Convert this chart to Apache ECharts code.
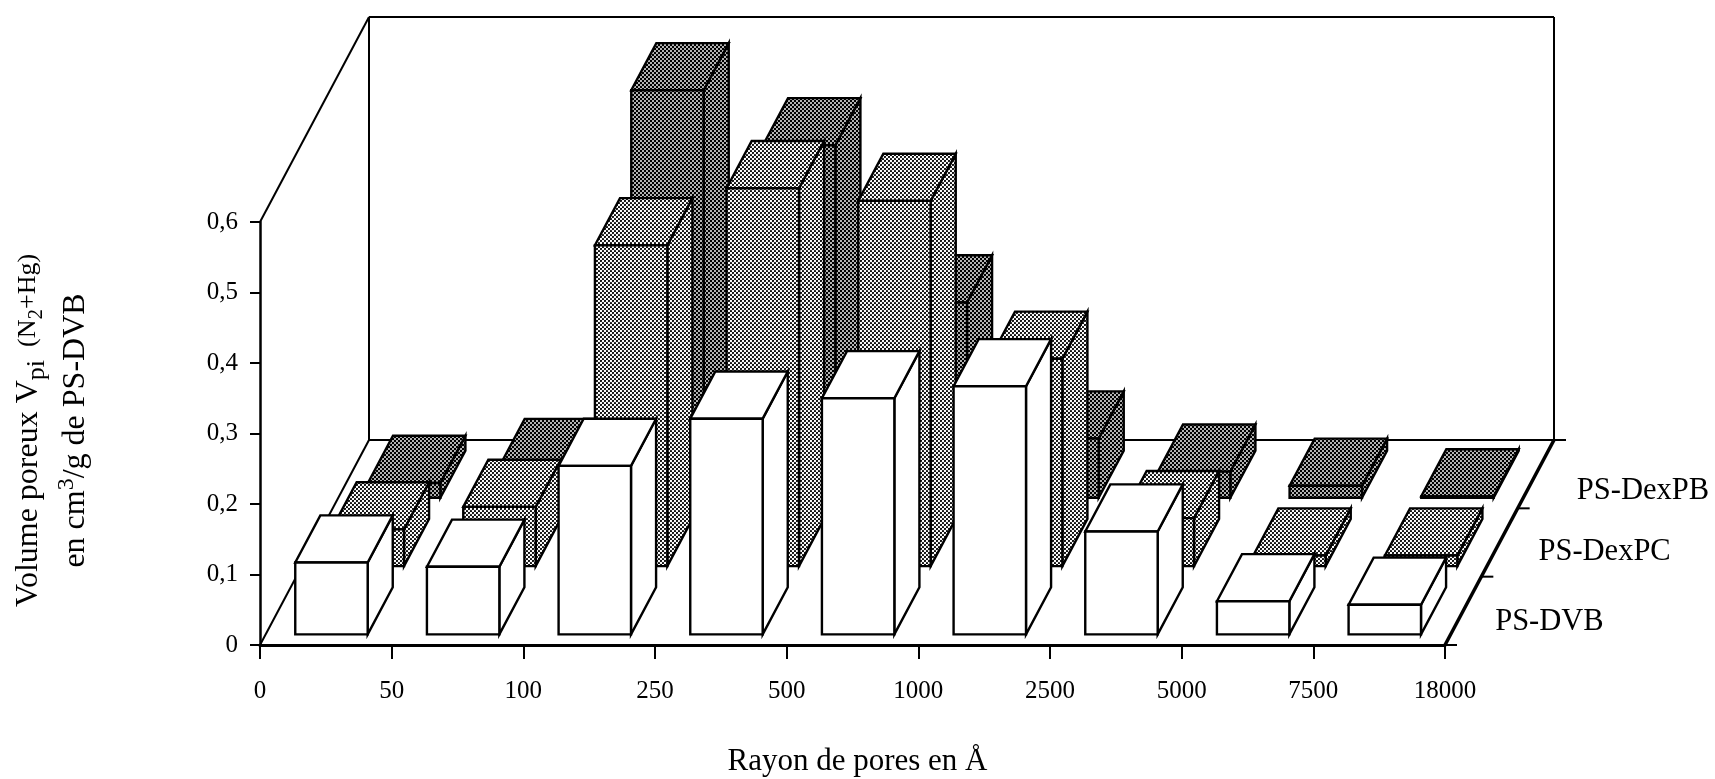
<!DOCTYPE html>
<html>
<head>
<meta charset="utf-8">
<style>html,body{margin:0;padding:0;background:#fff}#chart{width:1715px;height:779px}</style>
<script src="https://cdn.jsdelivr.net/npm/echarts@6/dist/echarts.min.js"></script>
</head>
<body>
<div id="chart"></div>
<script>
// ---- data ----
var poreRadiusTicks = ['0','50','100','250','500','1000','2500','5000','7500','18000'];
var rowNames = ['PS-DVB','PS-DexPC','PS-DexPB'];
var psDvb    = [0.102,0.096,0.239,0.306,0.335,0.352,0.146,0.047,0.042];
var psDexPC  = [0.052,0.084,0.455,0.536,0.518,0.294,0.068,0.015,0.015];
var psDexPB  = [0.021,0.045,0.578,0.500,0.277,0.084,0.037,0.017,0.002];

// ---- oblique projection: screen vector of the full floor depth ----
var DEPTH_X = 109, DEPTH_Y = -205;
var ROWS = 3, ROW_GAP = 0.155, ROW_DEPTH = 0.69, BAR_WIDTH = 0.55;
var FONT = '"Liberation Serif","Times New Roman",serif';
var INK = '#000';
var ROW_LABEL_NUDGE = [[32,11],[39,9],[41,17]];

function halftone(bg, fg, r) {
  var c = document.createElement('canvas'); c.width = c.height = 4;
  var g = c.getContext('2d');
  g.fillStyle = bg; g.fillRect(0,0,4,4);
  g.fillStyle = fg;
  [[1,1],[3,3]].forEach(function(p){
    for (var dx=-4;dx<=4;dx+=4) for (var dy=-4;dy<=4;dy+=4){
      g.beginPath(); g.arc(p[0]+dx,p[1]+dy,r,0,Math.PI*2); g.fill();
    }
  });
  return {image:c, repeat:'repeat'};
}
var lightDots = halftone('#fff','#000',1.1);
var darkDots = halftone('#000','#fff',0.95);
var fills = [
  {front:'#fff', side:'#fff', top:'#fff'},
  {front:lightDots, side:lightDots, top:lightDots},
  {front:darkDots, side:darkDots, top:darkDots}
];

function barRenderer(row) {
  return function (params, api) {
    var i = api.value(0), v = api.value(1);
    var t0 = (row + ROW_GAP) / ROWS, d = ROW_DEPTH / ROWS;
    var ox = DEPTH_X * t0, oy = DEPTH_Y * t0;
    var dx = DEPTH_X * d, dy = DEPTH_Y * d;
    var a = api.coord([i + 0.5 - BAR_WIDTH/2, 0]);
    var b = api.coord([i + 0.5 + BAR_WIDTH/2, v]);
    var xl = a[0]+ox, xr = b[0]+ox, yb = a[1]+oy, yt = b[1]+oy;
    var f = fills[row];
    var line = {stroke:INK, lineWidth:2.4, lineJoin:'miter'};
    function poly(pts, fill){
      return {type:'polygon', shape:{points:pts}, style:Object.assign({fill:fill}, line)};
    }
    return {type:'group', children:[
      poly([[xr,yb],[xr+dx,yb+dy],[xr+dx,yt+dy],[xr,yt]], f.side),
      poly([[xl,yt],[xr,yt],[xr+dx,yt+dy],[xl+dx,yt+dy]], f.top),
      poly([[xl,yb],[xr,yb],[xr,yt],[xl,yt]], f.front)
    ]};
  };
}

function frameRenderer(params, api) {
  var o = api.coord([0,0]), r = api.coord([9,0]), t = api.coord([0,0.6]);
  var kids = [];
  function seg(x1,y1,x2,y2,w){
    kids.push({type:'line', shape:{x1:x1,y1:y1,x2:x2,y2:y2}, style:{stroke:INK, lineWidth:w||2}});
  }
  var bx = o[0]+DEPTH_X, by = o[1]+DEPTH_Y;
  var bxr = r[0]+DEPTH_X, tyb = t[1]+DEPTH_Y;
  seg(o[0],o[1],bx,by);          // left floor edge
  seg(t[0],t[1],bx,tyb);         // left wall top edge
  seg(bx,tyb,bx,by);             // back-left vertical
  seg(bx,tyb,bxr,tyb);           // back top
  seg(bxr,tyb,bxr,by);           // back-right vertical
  seg(bx,by,bxr,by);             // floor back edge
  seg(r[0],r[1],bxr,by,3.5);     // right floor edge
  for (var k=0;k<=ROWS;k++){
    var px = r[0]+DEPTH_X*k/ROWS, py = r[1]+DEPTH_Y*k/ROWS;
    seg(px,py,px+12,py,2);
    if (k<ROWS){
      kids.push({type:'text',
        x:r[0]+DEPTH_X*(k+0.5)/ROWS+ROW_LABEL_NUDGE[k][0],
        y:r[1]+DEPTH_Y*(k+0.5)/ROWS+ROW_LABEL_NUDGE[k][1],
        style:{text:rowNames[k], font:'30.5px '+FONT, fill:INK, align:'left', verticalAlign:'middle'}});
    }
  }
  return {type:'group', children:kids};
}

function points(arr){ return arr.map(function(v,i){ return [i,v]; }); }

var chart = echarts.init(document.getElementById('chart'), null, {renderer:'canvas'});
chart.setOption({
  animation:false,
  backgroundColor:'#fff',
  grid:{left:260, right:270, top:222, bottom:134, containLabel:false, outerBoundsMode:'none'},
  xAxis:{
    type:'value', min:0, max:9, interval:1,
    axisLine:{show:true, onZero:false, lineStyle:{color:INK, width:3}},
    axisTick:{show:true, length:14, lineStyle:{color:INK, width:2}},
    splitLine:{show:false},
    axisLabel:{show:true, margin:34, fontFamily:FONT, fontSize:25, color:INK, hideOverlap:false, showMinLabel:true, showMaxLabel:true,
      formatter:function(v){ return poreRadiusTicks[v]; }},
    name:'Rayon de pores en \u00C5', nameLocation:'middle', nameGap:101,
    nameTextStyle:{fontFamily:FONT, fontSize:31, color:INK, padding:[0,0,0,10]}
  },
  yAxis:{
    type:'value', min:0, max:0.6, interval:0.1,
    axisLine:{show:true, onZero:false, lineStyle:{color:INK, width:2.5}},
    axisTick:{show:true, length:10, lineStyle:{color:INK, width:2}},
    splitLine:{show:false},
    axisLabel:{show:true, margin:22, fontFamily:FONT, fontSize:25, color:INK,
      formatter:function(v){ return v===0 ? '0' : v.toFixed(1).replace('.',','); }},
    name:'{a|Volume poreux V}{sub|pi}{b|  (N}{subb|2}{b|+Hg)}\n{a|en cm}{sup|3}{a|/g de PS-DVB}',
    nameLocation:'middle', nameGap:161, nameRotate:90,
    nameTextStyle:{
      fontFamily:FONT, color:INK, padding:[0,0,0,6],
      rich:{
        a:{fontFamily:FONT, fontSize:32, color:INK, lineHeight:47},
        b:{fontFamily:FONT, fontSize:26, color:INK, lineHeight:47},
        sub:{fontFamily:FONT, fontSize:26, color:INK, padding:[18,0,0,0]},
        subb:{fontFamily:FONT, fontSize:21, color:INK, padding:[16,0,0,0]},
        sup:{fontFamily:FONT, fontSize:24, color:INK, padding:[0,0,18,0]}
      }
    }
  },
  series:[
    {type:'custom', name:'frame', coordinateSystem:'cartesian2d', renderItem:frameRenderer, data:[[0,0]], silent:true, clip:false},
    {type:'custom', name:rowNames[2], renderItem:barRenderer(2), data:points(psDexPB), encode:{x:0,y:1}, clip:false},
    {type:'custom', name:rowNames[1], renderItem:barRenderer(1), data:points(psDexPC), encode:{x:0,y:1}, clip:false},
    {type:'custom', name:rowNames[0], renderItem:barRenderer(0), data:points(psDvb), encode:{x:0,y:1}, clip:false}
  ]
});
</script>
</body>
</html>
